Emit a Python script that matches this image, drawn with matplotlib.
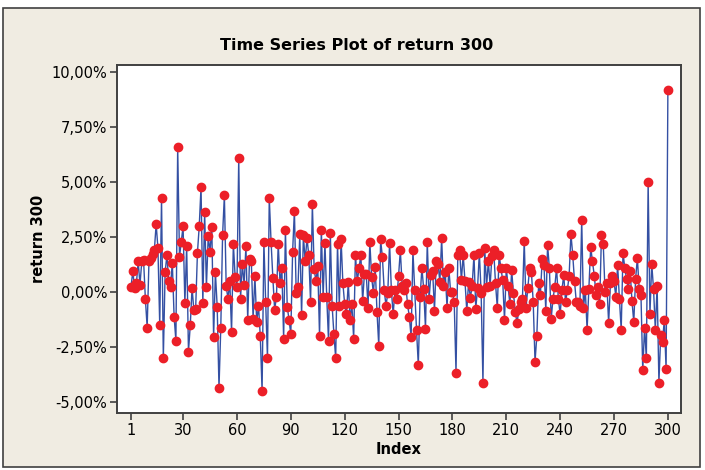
import numpy as np
import matplotlib
matplotlib.use("Agg")
import matplotlib.pyplot as plt
from matplotlib.ticker import FuncFormatter
from matplotlib.patches import Rectangle

# return 300, in percent
returns = [
    0.25, 0.95, 0.2, 0.4, 1.4, 0.35, 1.4, 1.45, -0.3, -1.6,
    1.4, 1.55, 1.75, 1.9, 3.1, 2.0, -1.5, 4.3, -3.0, 0.9,
    1.7, 0.5, 0.25, 1.35, -1.1, -2.2, 6.6, 1.6, 2.3, 3.0,
    -0.5, 2.1, -2.7, -1.5, 0.2, -0.8, -0.75, 1.8, 3.0, 4.8,
    -0.5, 3.65, 0.25, 2.55, 1.85, 2.95, -2.05, 0.9, -0.65, -4.35,
    -1.6, 2.6, 4.4, 0.3, -0.3, 0.5, -1.8, 2.2, 0.7, 0.25,
    6.1, -0.3, 1.3, 0.35, 2.1, -1.25, 1.5, 1.4, -1.2, 0.75,
    -1.35, -0.6, -2.0, -4.5, 2.3, -0.45, -3.0, 4.3, 2.3, 0.65,
    -0.8, -0.2, 2.2, 0.4, 1.1, -2.1, 2.85, -0.65, -1.25, -1.9,
    1.85, 3.7, -0.05, 0.25, 2.65, -1.05, 2.6, 1.4, 2.45, 1.7,
    -0.45, 4.0, 1.05, 0.5, 1.2, -2.0, 2.85, -0.2, 2.25, -0.2,
    -2.2, 2.7, -0.6, -1.9, -3.0, 2.2, -0.6, 2.4, 0.4, -0.55,
    -1.0, 0.45, -1.25, -0.55, -2.1, 1.7, 0.5, 1.1, 1.7, -0.4,
    0.85, 0.85, -0.7, 2.3, 0.7, -0.05, 1.15, -0.9, -2.45, 2.4,
    1.6, 0.1, -0.6, -0.05, 2.25, 0.1, -1.0, 0.1, -0.3, 0.75,
    1.9, 0.3, 0.1, 0.4, -0.55, -1.1, -2.05, 1.9, 0.1, -1.7,
    -3.3, -0.2, 1.1, 0.15, -1.65, 2.3, -0.3, 0.8, 0.95, -0.85,
    1.4, 1.3, 0.45, 2.45, 0.3, 0.9, -0.7, 1.1, 0.0, 0.0,
    -0.45, -3.65, 1.7, 1.9, 0.55, 1.7, 0.5, -0.85, 0.45, -0.25,
    0.3, 1.7, -0.75, 0.2, 1.8, -0.05, -4.1, 2.0, 0.25, 1.4,
    0.3, 1.65, 1.9, 0.4, -0.7, 1.7, 1.1, 0.55, -1.25, 1.1,
    0.3, -0.55, 1.0, -0.05, -0.9, -1.4, -0.75, -0.45, -0.3, 2.35,
    -0.7, 0.2, 1.1, 0.9, -0.45, -3.15, -2.0, 0.4, -0.1, 1.5,
    1.25, -0.85, 2.15, 1.1, -1.2, -0.3, 0.25, 1.1, -0.3, -1.0,
    0.1, 0.8, -0.45, 0.1, 0.75, 2.65, 1.7, 0.5, -0.45, -0.45,
    -0.6, 3.3, -0.7, 0.1, -1.7, 0.15, 2.05, 1.4, 0.75, -0.1,
    0.25, -0.55, 2.6, 2.2, 0.0, 0.4, -1.4, 0.4, 0.75, 0.5,
    -0.2, 1.25, -0.3, -1.7, 1.8, 1.1, 0.6, 0.15, 0.95, -0.4,
    -1.35, 0.6, 1.55, 0.15, -0.1, -3.55, -1.6, -3.0, 5.0, -1.0,
    1.3, 0.15, -1.7, 0.3, -4.1, -1.95, -2.25, -1.25, -3.5, 9.2,
]
index = np.arange(1, len(returns) + 1)

x_ticks = [1, 30, 60, 90, 120, 150, 180, 210, 240, 270, 300]
y_ticks = [-5, -2.5, 0, 2.5, 5, 7.5, 10]

bg = "#F0ECE2"
frame = "#404040"

fig = plt.figure(figsize=(7.05, 4.7), dpi=100, facecolor="white")
# beige panel with a dark border, like the Minitab window
panel = Rectangle((3 / 705, 3 / 470), 697 / 705, 459 / 470,
                  transform=fig.transFigure, facecolor=bg,
                  edgecolor=frame, linewidth=1.2, zorder=-5)
fig.add_artist(panel)

ax = fig.add_axes([117 / 705, 57 / 470, 564 / 705, 348 / 470])
ax.set_zorder(1)
ax.set_facecolor("white")

ax.plot(index, returns, color="#3450A3", linewidth=1.0, zorder=2)
ax.plot(index, returns, linestyle="none", marker="o", markersize=6.0,
        markerfacecolor="#EC1F28", markeredgecolor="#EC1F28", zorder=3)

ax.set_xlim(-6.8, 307.3)
ax.set_ylim(-5.48, 10.32)
ax.set_xticks(x_ticks)
ax.set_yticks(y_ticks)
ax.yaxis.set_major_formatter(FuncFormatter(lambda v, p: f"{v:.2f}%".replace(".", ",")))

for s in ax.spines.values():
    s.set_color(frame)
    s.set_linewidth(1.4)
ax.tick_params(direction="out", length=5, width=1.2, color=frame,
               labelsize=10.5, labelcolor="black", pad=2)

# title is centred on the whole window, not on the axes
fig.text(357 / 705, 1 - 46 / 470, "Time Series Plot of return 300",
         fontsize=11.5, fontweight="bold", ha="center", va="center")
ax.set_xlabel("Index", fontsize=10.5, fontweight="bold", labelpad=3)
ax.set_ylabel("return 300", fontsize=10.5, fontweight="bold", labelpad=4)

fig.savefig("out.png", dpi=100, facecolor=fig.get_facecolor())
